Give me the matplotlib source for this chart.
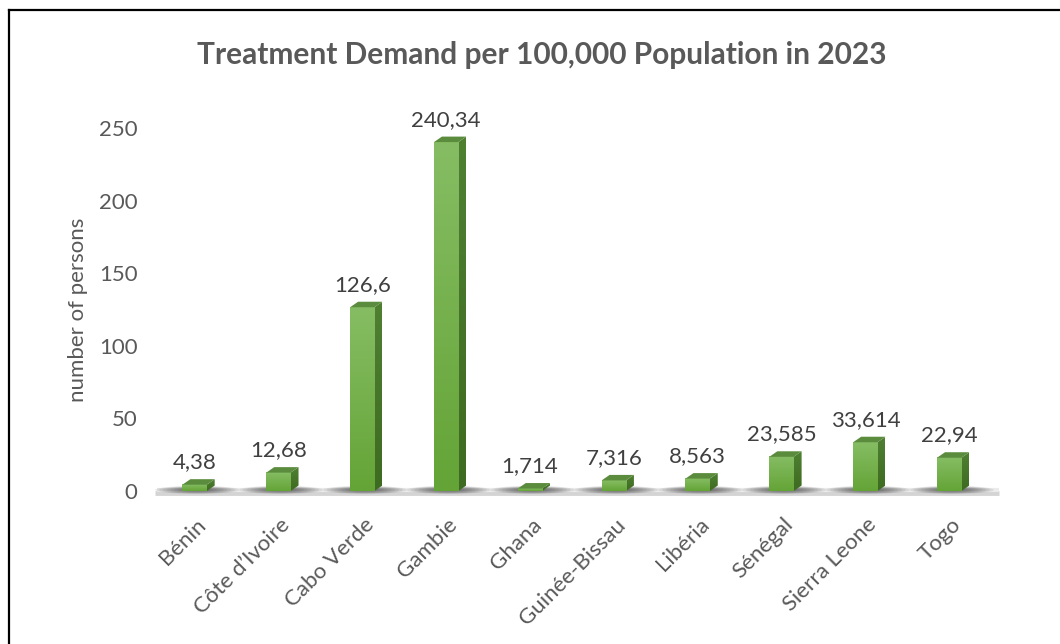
import numpy as np
import matplotlib
matplotlib.use("Agg")
import matplotlib.pyplot as plt
from matplotlib.patches import Polygon, Ellipse
from matplotlib.colors import LinearSegmentedColormap
from matplotlib.lines import Line2D
from matplotlib.transforms import offset_copy

plt.rcParams['font.family'] = ['Lato', 'DejaVu Sans']

countries = ["Bénin", "Côte d’Ivoire", "Cabo Verde", "Gambie", "Ghana",
             "Guinée-Bissau", "Libéria", "Sénégal", "Sierra Leone", "Togo"]
demand = [4.38, 12.68, 126.6, 240.34, 1.714, 7.316, 8.563, 23.585, 33.614, 22.94]
y_ticks = [0, 50, 100, 150, 200, 250]

TEXT = "#595959"
FS = 16

fig = plt.figure(figsize=(10.6, 6.44), dpi=100)
ax = fig.add_axes([0.1440, 0.2375, 0.7910, 0.5636])
ax.set_xlim(-0.5, 9.5)
ax.set_ylim(0, 250)

# pseudo-3D geometry (data units)
w = 0.29      # front face width
dx = 0.095    # depth offset to the right
dy = 3.8      # depth offset upward

front_cmap = LinearSegmentedColormap.from_list("front", ["#64a436", "#86bd64"])
side_cmap = LinearSegmentedColormap.from_list("side", ["#3d6b21", "#4f8032"])
grad = np.linspace(0, 1, 256).reshape(-1, 1)

# floor
ax.plot([-0.47, 9.6], [-1.2, -1.2], color="#d4d4d4", lw=3.5,
        solid_capstyle="butt", zorder=1, clip_on=False)
ax.plot([-0.45, 9.6], [0.6, 0.6], color="#ebebeb", lw=3, zorder=1,
        solid_capstyle="butt", clip_on=False)

for i, v in enumerate(demand):
    x0, x1 = i - w / 2, i + w / 2

    # soft shadow on the floor
    for k in range(9):
        sc = 1 - k * 0.09
        ax.add_patch(Ellipse((i + 0.03, 0.8), 1.0 * sc, 5.5 * sc,
                             facecolor="#1a1a1a", edgecolor="none",
                             alpha=0.09, zorder=2, clip_on=False))

    # front face with vertical gradient
    ax.imshow(grad, extent=[x0, x1, 0, v], origin="lower", aspect="auto",
              cmap=front_cmap, zorder=4, interpolation="bilinear", clip_on=False)

    # side face
    side = Polygon([(x1, 0), (x1 + dx, dy), (x1 + dx, v + dy), (x1, v)],
                   closed=True, facecolor="none", edgecolor="none", zorder=3)
    ax.add_patch(side)
    im = ax.imshow(grad, extent=[x1, x1 + dx, 0, v + dy], origin="lower",
                   aspect="auto", cmap=side_cmap, zorder=3, interpolation="bilinear")
    im.set_clip_path(side)

    # top face
    ax.add_patch(Polygon([(x0, v), (x1, v), (x1 + dx, v + dy), (x0 + dx, v + dy)],
                         closed=True, facecolor="#5b8c3e", edgecolor="none",
                         zorder=5, clip_on=False))

    # value label
    ax.annotate(str(v).replace(".", ","), (i, v), xytext=(0, 9),
                textcoords="offset points", ha="center", va="bottom",
                fontsize=FS, color="#404040", clip_on=False)

ax.set_xlim(-0.5, 9.5)
ax.set_ylim(0, 250)

# category labels
lab_tr = offset_copy(ax.transData, fig=fig, x=6, y=-22, units="points")
for i, name in enumerate(countries):
    ax.text(i, 0, name, transform=lab_tr, rotation=45, ha="right", va="center",
            rotation_mode="anchor", fontsize=FS, color=TEXT)

ax.set_xticks([])
ax.set_yticks(y_ticks)
ax.set_yticklabels([str(t) for t in y_ticks], fontsize=FS, color=TEXT)
ax.tick_params(axis="y", length=0, pad=11)
for s in ax.spines.values():
    s.set_visible(False)
ax.patch.set_alpha(0)

ax.set_ylabel("number of persons", fontsize=FS, color=TEXT, labelpad=8)

fig.text(542 / 1060, 1 - 55 / 644, "Treatment Demand per 100,000 Population in 2023",
         ha="center", va="center", fontsize=21.5, fontweight="bold", color=TEXT)

# frame lines along the top and left edges
fig.add_artist(Line2D([9 / 1060, 1.0], [1 - 10 / 644, 1 - 10 / 644],
                      transform=fig.transFigure, color="black", lw=1.6))
fig.add_artist(Line2D([9 / 1060, 9 / 1060], [0.0, 1 - 10 / 644],
                      transform=fig.transFigure, color="black", lw=1.6))

fig.savefig("out.png", dpi=100)
